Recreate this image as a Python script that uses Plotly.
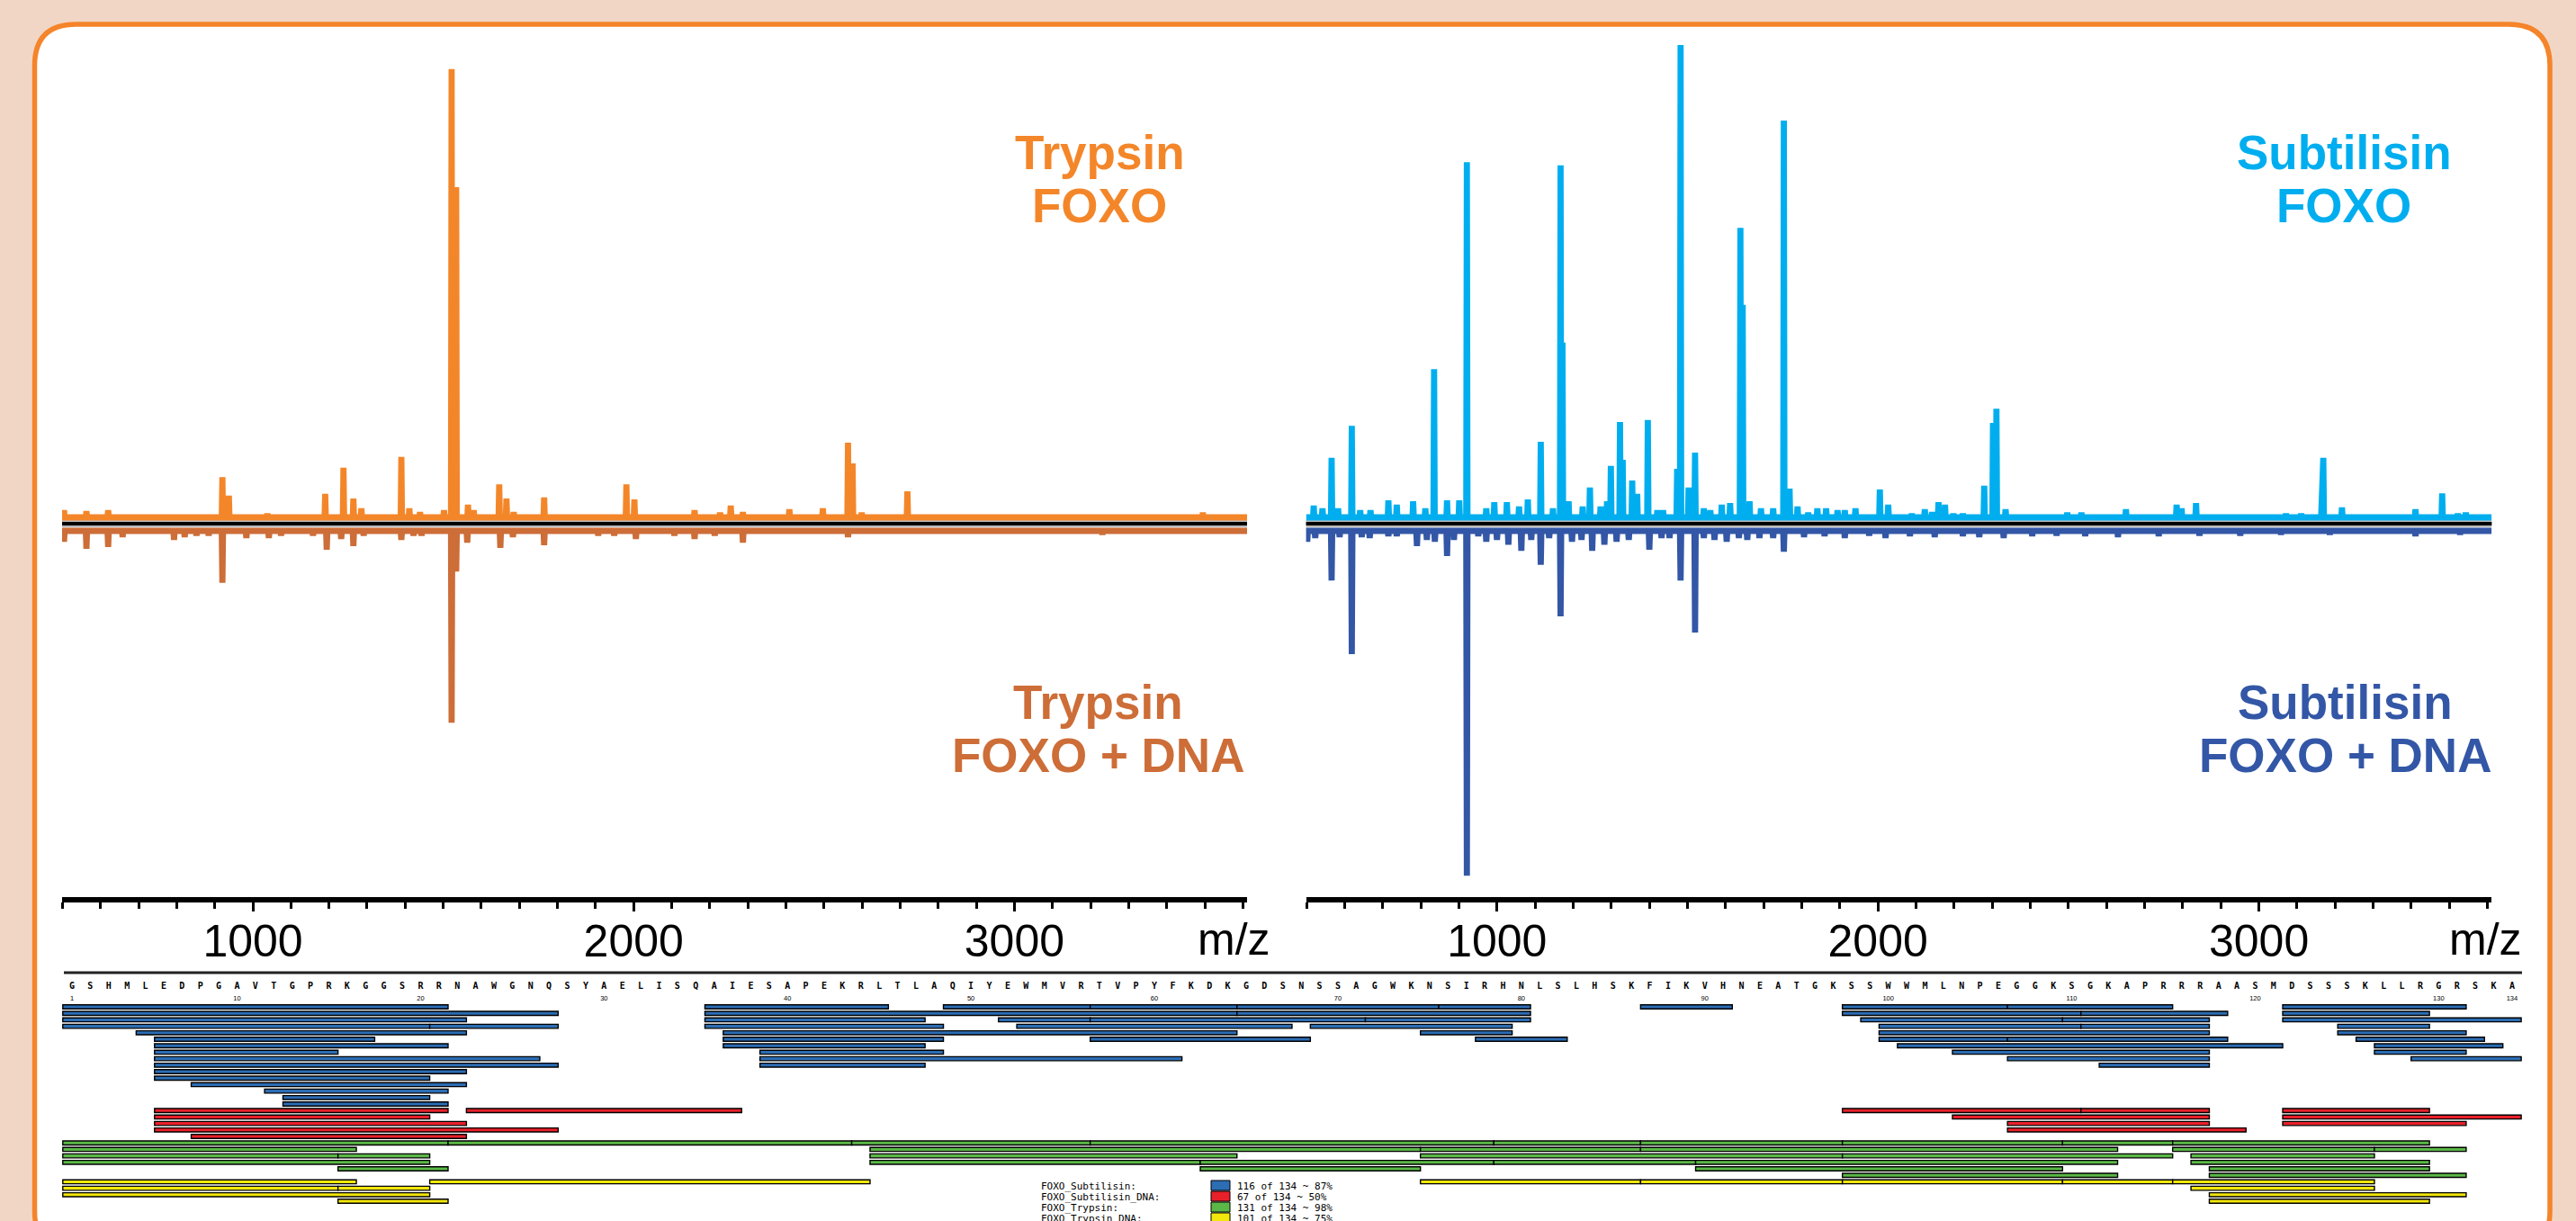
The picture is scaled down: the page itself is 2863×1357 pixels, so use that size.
import plotly.graph_objects as go

W, H = 2863, 1357

# ---------------- mass spectra: m/z and relative intensity ----------------
tryp_foxo_mz = [504, 563, 620, 920, 937, 1038, 1190, 1238, 1264, 1285, 1390, 1411, 1439, 1502, 1522, 1534,
                1565, 1580, 1647, 1666, 1685, 1765, 1981, 2002, 2160, 2227, 2255, 2287, 2409, 2497, 2563,
                2575, 2599, 2719, 3495]
tryp_foxo_int = [1.5, 1.3, 1.5, 8.5, 4.6, 0.8, 5.0, 10.5, 4.0, 1.9, 12.8, 1.9, 1.1, 1.5, 94.9, 69.9,
                 2.7, 1.5, 7.0, 4.0, 1.1, 4.2, 7.0, 3.8, 1.5, 1.0, 2.5, 1.1, 1.7, 1.9, 15.8,
                 11.4, 1.0, 5.5, 1.0]

tryp_dna_mz = [504, 563, 620, 658, 793, 821, 852, 884, 920, 983, 1042, 1074, 1158, 1194, 1232, 1264, 1291,
               1390, 1422, 1443, 1522, 1534, 1563, 1650, 1683, 1765, 1907, 1949, 2006, 2107, 2160, 2213,
               2287, 2563, 3231]
tryp_dna_int = [2.3, 3.8, 3.4, 1.3, 1.9, 1.3, 1.0, 1.0, 11.0, 1.5, 1.5, 1.0, 1.0, 4.0, 1.7, 3.2, 1.0,
                1.9, 1.0, 1.0, 40.6, 8.6, 2.5, 3.6, 1.3, 3.0, 1.0, 1.0, 1.7, 1.0, 1.7, 1.0,
                2.5, 1.3, 0.8]

sub_foxo_mz = [519, 542, 566, 583, 619, 641, 668, 715, 737, 780, 812, 835, 869, 901, 921, 972, 993, 1026,
               1058, 1081, 1115, 1147, 1167, 1172, 1188, 1225, 1244, 1272, 1289, 1299, 1323, 1330, 1355,
               1368, 1396, 1421, 1436, 1473, 1482, 1503, 1520, 1543, 1560, 1590, 1612, 1639, 1645, 1663,
               1693, 1725, 1753, 1768, 1789, 1817, 1841, 1864, 1894, 1913, 1941, 2005, 2027, 2089, 2123,
               2142, 2159, 2176, 2198, 2223, 2279, 2302, 2311, 2335, 2497, 2534, 2651, 2784, 2797, 2835,
               3071, 3111, 3165, 3169, 3218, 3411, 3481, 3522, 3543]
sub_foxo_int = [2.5, 1.9, 12.6, 1.9, 19.4, 1.5, 1.5, 3.6, 2.7, 3.4, 1.9, 31.4, 3.6, 3.6, 75.2, 1.9, 3.2, 3.2,
                2.3, 3.8, 16.0, 1.9, 74.5, 37.0, 3.4, 2.3, 6.3, 2.3, 3.4, 10.9, 20.2, 12.2, 7.8,
                5.0, 20.6, 1.5, 1.5, 10.3, 100.0, 6.3, 13.7, 1.9, 1.5, 2.7, 3.0, 61.3, 45.0, 3.4,
                1.9, 1.9, 84.0, 6.1, 2.3, 1.0, 1.9, 1.9, 1.5, 1.5, 1.9, 5.9, 2.7, 0.8, 1.7,
                1.1, 3.2, 2.7, 0.8, 0.8, 6.7, 20.0, 23.0, 1.7, 1.0, 1.0, 1.7, 2.7, 1.9, 3.0,
                0.8, 0.8, 7.6, 12.6, 2.1, 1.7, 5.1, 0.8, 1.0]

sub_dna_mz = [502, 523, 566, 587, 619, 645, 666, 715, 737, 790, 816, 837, 869, 887, 921, 951, 972, 1000,
              1030, 1064, 1090, 1115, 1137, 1167, 1197, 1222, 1250, 1282, 1314, 1346, 1400, 1432, 1453,
              1482, 1520, 1543, 1571, 1603, 1635, 1657, 1689, 1725, 1753, 1806, 1860, 1913, 1977, 2020,
              2084, 2149, 2223, 2266, 2330, 2405, 2469, 2544, 2630, 2737, 2844, 2951, 3058, 3186, 3411, 3528]
sub_dna_int = [2.3, 1.5, 10.5, 1.3, 26.1, 1.3, 1.5, 1.1, 1.1, 3.2, 1.9, 2.3, 5.3, 1.9, 73.0, 1.1, 2.3, 1.9,
               2.9, 4.2, 1.9, 7.2, 1.5, 18.1, 2.3, 1.9, 4.2, 2.9, 2.3, 1.9, 4.0, 1.5, 1.5,
               10.5, 21.5, 1.5, 1.9, 2.3, 1.5, 1.9, 1.5, 1.5, 4.4, 1.3, 1.1, 1.5, 1.0, 1.5,
               1.1, 1.3, 1.1, 1.3, 1.5, 1.1, 1.0, 1.1, 1.3, 1.1, 1.0, 1.0, 0.8, 0.8, 1.1, 0.8]

mz_tick_values = [1000, 2000, 3000]
mz_tick_labels = ["1000", "2000", "3000"]

# ---------------- peptide coverage map ----------------
sequence = ("GSHMLEDPGAVTGPRKGGSRRNAWGNQSYAELISQAIESAPEKRLTLAQIYEWMVRTVPYFKDKGDS"
            "NSSAGWKNSIRHNLSLHSKFIKVHNEATGKSSWWMLNPEGGKSGKAPRRRAASMDSSSKLLRGRSKA")
residue_numbers = [1, 10, 20, 30, 40, 50, 60, 70, 80, 90, 100, 110, 120, 130, 134]

# each inner list = one lane of peptides (first residue, last residue)
subtilisin_lanes = [
    [(1, 21), (36, 45), (49, 56), (57, 64), (65, 75), (76, 80), (87, 91), (98, 106), (107, 115), (122, 131)],
    [(1, 27), (36, 64), (65, 80), (98, 110), (111, 118), (122, 129)],
    [(1, 22), (36, 47), (52, 56), (57, 71), (72, 80), (99, 109), (110, 117), (122, 134)],
    [(1, 20), (21, 27), (36, 48), (53, 67), (69, 79), (100, 110), (111, 117), (125, 129)],
    [(5, 22), (37, 64), (75, 79), (100, 117), (125, 131)],
    [(6, 17), (37, 48), (57, 68), (78, 82), (100, 106), (107, 118), (126, 132)],
    [(6, 21), (37, 47), (101, 121), (127, 133)],
    [(6, 15), (39, 48), (104, 117), (127, 131)],
    [(6, 26), (39, 61), (107, 117), (129, 134)],
    [(6, 27), (39, 47), (112, 117)],
    [(6, 22)],
    [(6, 20)],
    [(8, 22)],
    [(12, 21)],
    [(13, 20)],
    [(13, 21)],
]
subtilisin_dna_lanes = [
    [(6, 21), (23, 37), (98, 110), (111, 117), (122, 129)],
    [(6, 20), (104, 117), (122, 134)],
    [(6, 22), (107, 117), (122, 131)],
    [(6, 27), (107, 119)],
    [(8, 22)],
]
trypsin_lanes = [
    [(1, 21), (22, 43), (44, 56), (57, 78), (79, 86), (87, 97), (98, 109), (110, 115), (116, 129)],
    [(1, 16), (45, 74), (75, 86), (87, 112), (116, 126), (127, 131)],
    [(1, 15), (16, 20), (45, 64), (75, 97), (98, 115), (117, 126)],
    [(1, 20), (45, 62), (63, 78), (79, 89), (90, 112), (117, 129)],
    [(16, 21), (63, 74), (90, 109), (118, 129)],
    [(98, 112), (118, 131)],
]
trypsin_dna_lanes = [
    [(1, 16), (21, 44), (75, 86), (87, 97), (98, 109), (110, 115), (116, 126)],
    [(1, 15), (16, 20), (117, 126)],
    [(1, 20), (118, 131)],
    [(16, 21), (118, 129)],
]
coverage_names = ["FOXO_Subtilisin:", "FOXO_Subtilisin_DNA:", "FOXO_Trypsin:", "FOXO_Trypsin_DNA:"]
coverage_values = ["116 of 134 ~ 87%", "67 of 134 ~ 50%", "131 of 134 ~ 98%", "101 of 134 ~ 75%"]

# ---------------- styles ----------------
C_TRYP = "#F4862A"
C_TRYP_DNA = "#CD6D37"
C_SUB = "#00AEEF"
C_SUB_DNA = "#3357A6"
C_BORDER = "#F5842A"
C_BG = "#F1D6C6"
COV_COLORS = ["#2C6DB4", "#E8202A", "#5BB847", "#F2E60C"]
SANS = "Liberation Sans, Arial, sans-serif"
MONO = "DejaVu Sans Mono, Liberation Mono, monospace"

MZ_LO, MZ_HI = 499, 3611


def px(x):
    return x / W


def py(y):
    return 1 - y / H


def stick(mz, inten, sign, hw=1.6):
    xs, ys = [MZ_LO], [0]
    for m, v in sorted(zip(mz, inten)):
        xs += [m - hw, m, m + hw]
        ys += [0, sign * v, 0]
    xs.append(MZ_HI)
    ys.append(0)
    return xs, ys


fig = go.Figure()

for mz, inten, sign, color, xa, ya in [
    (tryp_foxo_mz, tryp_foxo_int, 1, C_TRYP, "x", "y"),
    (tryp_dna_mz, tryp_dna_int, -1, C_TRYP_DNA, "x", "y2"),
    (sub_foxo_mz, sub_foxo_int, 1, C_SUB, "x2", "y"),
    (sub_dna_mz, sub_dna_int, -1, C_SUB_DNA, "x2", "y2"),
]:
    xs, ys = stick(mz, inten, sign)
    fig.add_trace(go.Scatter(x=xs, y=ys, mode="lines", line=dict(color=color, width=6.8),
                             xaxis=xa, yaxis=ya, hoverinfo="skip", showlegend=False))

# coverage bars
lane = 0
for lanes, color in zip([subtilisin_lanes, subtilisin_dna_lanes, trypsin_lanes, trypsin_dna_lanes], COV_COLORS):
    ys, bases, lens = [], [], []
    for row in lanes:
        for s, e in row:
            ys.append(lane)
            bases.append(s - 0.5)
            lens.append(e - s + 1)
        lane += 1
    fig.add_trace(go.Bar(y=ys, x=lens, base=bases, orientation="h", width=0.62,
                         marker=dict(color=color, line=dict(color="black", width=1.4)),
                         xaxis="x3", yaxis="y3", hoverinfo="skip", showlegend=False))

# sequence letters and residue numbers
fig.add_trace(go.Scatter(x=list(range(1, len(sequence) + 1)), y=[-3.12] * len(sequence), mode="text",
                         text=list(sequence),
                         textfont=dict(family=MONO, size=10, color="black", weight="bold"),
                         xaxis="x3", yaxis="y3", hoverinfo="skip", showlegend=False, cliponaxis=False))
fig.add_trace(go.Scatter(x=residue_numbers, y=[-1.2] * len(residue_numbers), mode="text",
                         text=[str(n) for n in residue_numbers],
                         textfont=dict(family=SANS, size=7.5, color="black"),
                         xaxis="x3", yaxis="y3", hoverinfo="skip", showlegend=False, cliponaxis=False))

ruler = dict(range=[MZ_LO, MZ_HI], anchor="free", position=py(1000), showline=True, linewidth=6,
             linecolor="black", ticks="outside", ticklen=10, tickwidth=3, tickcolor="black",
             tickmode="array", tickvals=mz_tick_values, ticktext=mz_tick_labels,
             tickfont=dict(family=SANS, size=50, color="black"), ticklabelstandoff=-10,
             minor=dict(tickmode="linear", tick0=0, dtick=100, ticks="outside", ticklen=7, tickwidth=3,
                        tickcolor="black", showgrid=False),
             showgrid=False, zeroline=False, fixedrange=True)

# background shapes
L, T, R, B, r = 38.5, 27, 2834, 1392, 46
path = (f"M {px(L)},{py(T + r)} Q {px(L)},{py(T)} {px(L + r)},{py(T)} "
        f"L {px(R - r)},{py(T)} Q {px(R)},{py(T)} {px(R)},{py(T + r)} "
        f"L {px(R)},{py(B - r)} Q {px(R)},{py(B)} {px(R - r)},{py(B)} "
        f"L {px(L + r)},{py(B)} Q {px(L)},{py(B)} {px(L)},{py(B - r)} Z")
shapes = [dict(type="path", path=path, xref="paper", yref="paper", fillcolor="white",
               line=dict(color=C_BORDER, width=5.5), layer="below")]
for x0, x1 in [(69, 1386), (1451.6, 2769.3)]:
    shapes.append(dict(type="line", xref="paper", yref="paper", x0=px(x0), x1=px(x1), y0=py(582), y1=py(582),
                       line=dict(color="#BBBBBB", width=8), layer="below"))
    shapes.append(dict(type="line", xref="paper", yref="paper", x0=px(x0), x1=px(x1), y0=py(582), y1=py(582),
                       line=dict(color="black", width=4), layer="below"))
shapes.append(dict(type="line", xref="paper", yref="paper", x0=px(71), x1=px(2803), y0=py(1081), y1=py(1081),
                   line=dict(color="#222", width=3), layer="below"))
for i, c in enumerate(COV_COLORS):
    shapes.append(dict(type="rect", xref="paper", yref="paper", x0=px(1346), x1=px(1367),
                       y0=py(1312 + 12 * i), y1=py(1323 + 12 * i), fillcolor=c,
                       line=dict(color="black", width=1)))

annotations = []
for txt, x, y, c in [("Trypsin", 1222, 169, C_TRYP), ("FOXO", 1222, 229, C_TRYP),
                     ("Trypsin", 1220, 780, C_TRYP_DNA), ("FOXO + DNA", 1220, 839, C_TRYP_DNA),
                     ("Subtilisin", 2605, 169, C_SUB), ("FOXO", 2605, 229, C_SUB),
                     ("Subtilisin", 2606, 780, C_SUB_DNA), ("FOXO + DNA", 2606, 839, C_SUB_DNA)]:
    annotations.append(dict(text=f"<b>{txt}</b>", x=px(x), y=py(y), xref="paper", yref="paper",
                            xanchor="center", yanchor="middle", showarrow=False,
                            font=dict(family=SANS, size=53, color=c)))
for x in [1371, 2762]:
    annotations.append(dict(text="m/z", x=px(x), y=py(1044), xref="paper", yref="paper",
                            xanchor="center", yanchor="middle", showarrow=False,
                            font=dict(family=SANS, size=50, color="black")))
for i, (n, v) in enumerate(zip(coverage_names, coverage_values)):
    yy = py(1318 + 12 * i)
    annotations.append(dict(text=n, x=px(1155), y=yy, xref="paper", yref="paper", xanchor="left",
                            yanchor="middle", showarrow=False, font=dict(family=MONO, size=11, color="black")))
    annotations.append(dict(text=v, x=px(1373), y=yy, xref="paper", yref="paper", xanchor="left",
                            yanchor="middle", showarrow=False, font=dict(family=MONO, size=11, color="black")))

fig.update_layout(
    width=W, height=H, autosize=False, margin=dict(l=0, r=0, t=0, b=0, pad=0),
    paper_bgcolor=C_BG, plot_bgcolor="rgba(0,0,0,0)", barmode="overlay", showlegend=False,
    xaxis=dict(domain=[px(69), px(1386)], **ruler),
    xaxis2=dict(domain=[px(1451.6), px(2769.3)], **ruler),
    yaxis=dict(domain=[py(600), py(40)], range=[-4.762, 101.905], visible=False, anchor="x", fixedrange=True),
    yaxis2=dict(domain=[py(995), py(565)], range=[-77.143, 4.762], visible=False, anchor="x", fixedrange=True),
    xaxis3=dict(domain=[px(59.6), px(2812.3)], range=[0, 135], visible=False, anchor="y3", fixedrange=True),
    yaxis3=dict(domain=[0, py(1088)], range=[33.05, -4.306], visible=False, anchor="x3", fixedrange=True),
    shapes=shapes, annotations=annotations,
)

fig.write_html("out.html")
